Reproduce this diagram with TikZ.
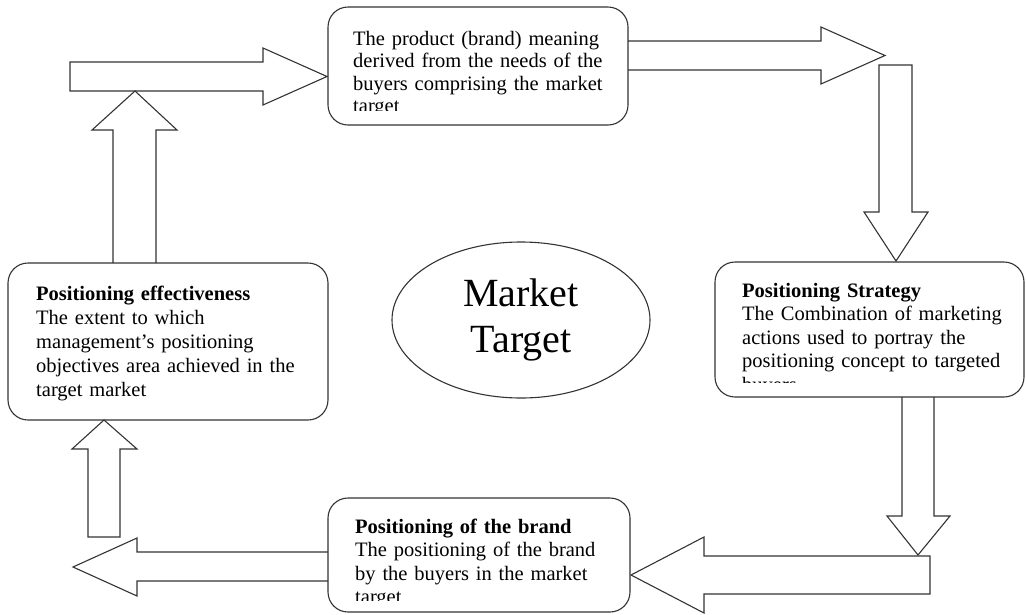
\documentclass[tikz,border=0pt]{standalone}
\usepackage{fontspec}
\setmainfont{Liberation Serif}
\usetikzlibrary{shapes.geometric}

\begin{document}
\begin{tikzpicture}[x=1pt,y=-1pt,
    box/.style={draw=black!80, line width=1.1pt, rounded corners=20pt, inner sep=0pt},
    boxtext/.style={anchor=base west, inner sep=0pt, text width=330pt, align=left,
        font=\fontsize{20.5}{23.5}\selectfont},
    blockarrow/.style={draw=black!80, line width=1.1pt, line join=miter}]
\useasboundingbox (0,0) rectangle (1026,614);

% the four boxes
\node[box, minimum width=300pt, minimum height=118pt] (meaning) at (478,66) {};
\node[box, minimum width=309pt, minimum height=135pt] (strategy) at (869.5,329.5) {};
\node[box, minimum width=302pt, minimum height=114pt] (brand) at (479,555) {};
\node[box, minimum width=320pt, minimum height=157pt] (effect) at (168,341.5) {};

% market target in the middle
\node[draw=black!80, line width=1.1pt, ellipse, minimum width=258pt, minimum height=156pt,
    align=center, font=\fontsize{40}{46}\selectfont] (market) at (521,320) {Market\\Target};

% texts, cut off at the bottom like the boxes do
\begin{scope}
\clip (328,7) rectangle (628,110);
\node[boxtext, font=\fontsize{20.5}{22.6}\selectfont] (meaningtxt) at (353,45)
    {The product (brand) meaning\\derived from the needs of the\\buyers comprising the market\\target};
\end{scope}
\begin{scope}
\clip (715,262) rectangle (1024,382.5);
\node[boxtext] (strategytxt) at (742,297)
    {\textbf{Positioning Strategy}\\The Combination of marketing\\actions used to portray the\\positioning concept to targeted\\buyers};
\end{scope}
\begin{scope}
\clip (328,498) rectangle (630,600);
\node[boxtext] (brandtxt) at (355,533)
    {\textbf{Positioning of the brand}\\The positioning of the brand\\by the buyers in the market\\target};
\end{scope}
\node[boxtext, font=\fontsize{20.5}{24.2}\selectfont] (effecttxt) at (36,300)
    {\textbf{Positioning effectiveness}\\The extent to which\\management's positioning\\objectives area achieved in the\\target market};

% block arrows round the cycle
\draw[blockarrow] (628,41) -- (821,41) -- (821,27) -- (885,55.5) -- (821,84) -- (821,70) -- (628,70);
\draw[blockarrow] (879,65) -- (912,65) -- (912,212) -- (928,212) -- (896,261) -- (864,212) -- (879,212) -- cycle;
\draw[blockarrow] (902,397) -- (902,516) -- (887,516) -- (918,555) -- (950,516) -- (934,516) -- (934,397);
\draw[blockarrow] (918,556) -- (930,556) -- (930,594) -- (704,594) -- (704,613) -- (631,575) -- (704,537) -- (704,556) -- cycle;
\draw[blockarrow] (328,552) -- (137,552) -- (137,538) -- (73,567) -- (137,596) -- (137,581) -- (328,581);
\draw[blockarrow] (88,537) -- (88,449) -- (72,449) -- (104,420) -- (137,449) -- (120,449) -- (120,537) -- cycle;
\draw[blockarrow] (113,263) -- (113,130) -- (92,130) -- (135,91) -- (177,130) -- (156,130) -- (156,263);
\draw[blockarrow] (70,62) -- (263,62) -- (263,48) -- (327,76.5) -- (263,105) -- (263,91) -- (70,91) -- cycle;
\end{tikzpicture}
\end{document}
